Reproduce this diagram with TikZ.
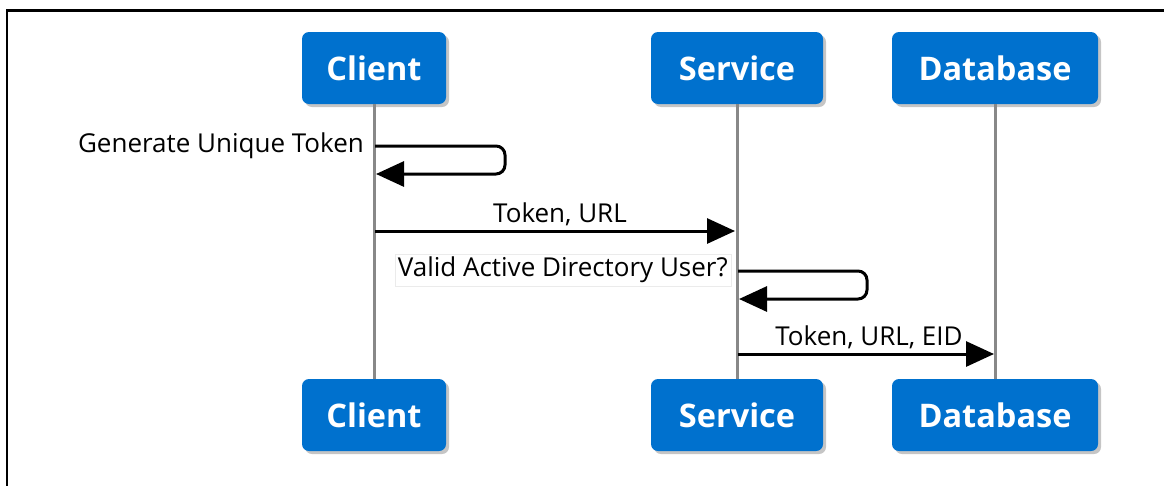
\documentclass[tikz,border=0pt]{standalone}
\usepackage{fontspec}
\setmainfont{Open Sans}
\usetikzlibrary{arrows.meta,shadows,calc}
\definecolor{intelblue}{RGB}{0,113,206}
\definecolor{lifegray}{RGB}{136,136,136}
\tikzset{
  actor/.style={rectangle, rounded corners=7pt, fill=intelblue, text=white,
    font=\bfseries\fontsize{32.5}{38}\selectfont, minimum height=72pt, inner sep=0pt,
    drop shadow={opacity=0.45, shadow xshift=3pt, shadow yshift=-3pt}},
  lifeline/.style={draw=lifegray, line width=3pt},
  msg/.style={draw=black, line width=3pt, -{Triangle[length=28pt,width=25pt]}},
  lbl/.style={font=\fontsize{26}{30}\selectfont, inner sep=1pt},
  frameline/.style={draw=black, line width=2.6pt}
}
\begin{document}
\begin{tikzpicture}[x=1pt,y=-1pt]
\useasboundingbox (0,0) rectangle (1164,485);
\fill[white] (0,0) rectangle (1164,485);
% frame
\coordinate (fb) at (7,486);
\coordinate (fc) at (7,10.5);
\coordinate (fr) at (1165,10.5);
\draw[frameline] (fb) -- (fc) -- (fr);
% actors
\node[actor, minimum width=144pt] (c1) at (374,68) {Client};
\node[actor, minimum width=172pt] (s1) at (737,68) {Service};
\node[actor, minimum width=206pt] (d1) at (995,68) {Database};
\node[actor, minimum width=144pt] (c2) at (374,415) {Client};
\node[actor, minimum width=172pt] (s2) at (737,415) {Service};
\node[actor, minimum width=206pt] (d2) at (995,415) {Database};
% lifelines
\draw[lifeline] (c1.south) -- (c2.north);
\draw[lifeline] (s1.south) -- (s2.north);
\draw[lifeline] (d1.south) -- (d2.north);
% self loop 1
\coordinate (l1s) at (375,146);
\coordinate (l1r) at (505,146);
\coordinate (l1b) at (505,174);
\coordinate (l1e) at (376,174);
\draw[msg, rounded corners=9pt] (l1s) -- (l1r) -- (l1b) -- (l1e);
\node[lbl, anchor=east] (t1) at (365,146) {Generate Unique Token};
% message 1
\coordinate (m1s) at (375,231);
\coordinate (m1e) at (735,231);
\draw[msg] (m1s) -- (m1e);
\node[lbl] (t2) at (560,214) {Token, URL};
% self loop 2
\coordinate (l2s) at (738,271);
\coordinate (l2r) at (867,271);
\coordinate (l2b) at (867,299);
\coordinate (l2e) at (739,299);
\draw[msg, rounded corners=9pt] (l2s) -- (l2r) -- (l2b) -- (l2e);
\node[lbl, anchor=east, fill=white, draw=black!8, line width=0.5pt, inner sep=3pt] (t3) at (731,270) {Valid Active Directory User?};
% message 2
\coordinate (m2s) at (738,354);
\coordinate (m2e) at (994,354);
\draw[msg] (m2s) -- (m2e);
\node[lbl] (t4) at (869,337) {Token, URL, EID};
\end{tikzpicture}
\end{document}
